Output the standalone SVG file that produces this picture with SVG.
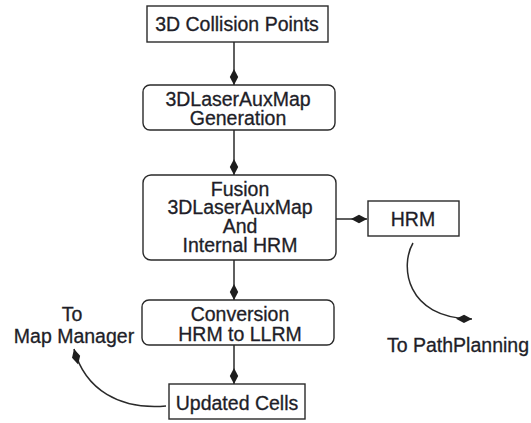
<svg xmlns="http://www.w3.org/2000/svg" width="531" height="423" viewBox="0 0 531 423">
  <style>
    .box { fill: #ffffff; stroke: #2a2a2a; stroke-width: 1.4; }
    .lbl { font-family: "Liberation Sans", Arial, sans-serif; font-size: 19.5px; fill: #1e1e28; stroke: #1e1e28; stroke-width: 0.3; text-anchor: middle; }
    .edge { fill: none; stroke: #2a2a2a; stroke-width: 1.5; }
  </style>
  <defs>
    <marker id="kite" markerUnits="userSpaceOnUse" viewBox="0 0 16 10" markerWidth="16" markerHeight="10" refX="16" refY="5" orient="auto">
      <path d="M16,5 L8,0.8 L0,5 L8,9.2 Z" fill="#1e1e1e"/>
    </marker>
  </defs>
  <rect width="531" height="423" fill="#ffffff"/>

  <g id="edges">
    <line class="edge" x1="234" y1="42" x2="234" y2="85" marker-end="url(#kite)"/>
    <line class="edge" x1="234" y1="130" x2="234" y2="175" marker-end="url(#kite)"/>
    <line class="edge" x1="234" y1="260" x2="234" y2="300" marker-end="url(#kite)"/>
    <line class="edge" x1="234" y1="345" x2="234" y2="384" marker-end="url(#kite)"/>
    <line class="edge" x1="336" y1="219" x2="367" y2="219" marker-end="url(#kite)"/>
    <path class="edge" d="M413,243 C400,265 405,318 472,319" marker-end="url(#kite)"/>
    <path class="edge" d="M166,406 C120,410 85,390 74,349" marker-end="url(#kite)"/>
  </g>

  <g id="collision-points">
    <rect class="box" x="147" y="6" width="181" height="36"/>
    <text class="lbl" x="237" y="31">3D Collision Points</text>
  </g>

  <g id="aux-map-generation">
    <rect class="box" x="143" y="85" width="192" height="45" rx="7"/>
    <text class="lbl" x="238" y="106">3DLaserAuxMap</text>
    <text class="lbl" x="238" y="125">Generation</text>
  </g>

  <g id="fusion">
    <rect class="box" x="143" y="175" width="193" height="85" rx="8"/>
    <text class="lbl" x="240" y="196">Fusion</text>
    <text class="lbl" x="240" y="214">3DLaserAuxMap</text>
    <text class="lbl" x="240" y="233">And</text>
    <text class="lbl" x="240" y="252">Internal HRM</text>
  </g>

  <g id="hrm">
    <rect class="box" x="368" y="201" width="91" height="35"/>
    <text class="lbl" x="413" y="226">HRM</text>
  </g>

  <g id="conversion">
    <rect class="box" x="142" y="300" width="192" height="45" rx="7"/>
    <text class="lbl" x="240" y="321">Conversion</text>
    <text class="lbl" x="240" y="341">HRM to LLRM</text>
  </g>

  <g id="updated-cells">
    <rect class="box" x="169" y="384" width="136" height="35"/>
    <text class="lbl" x="237" y="410">Updated Cells</text>
  </g>

  <g id="to-map-manager">
    <text class="lbl" x="72" y="321">To</text>
    <text class="lbl" x="74" y="343">Map Manager</text>
  </g>

  <g id="to-path-planning">
    <text class="lbl" x="458" y="352">To PathPlanning</text>
  </g>
</svg>
